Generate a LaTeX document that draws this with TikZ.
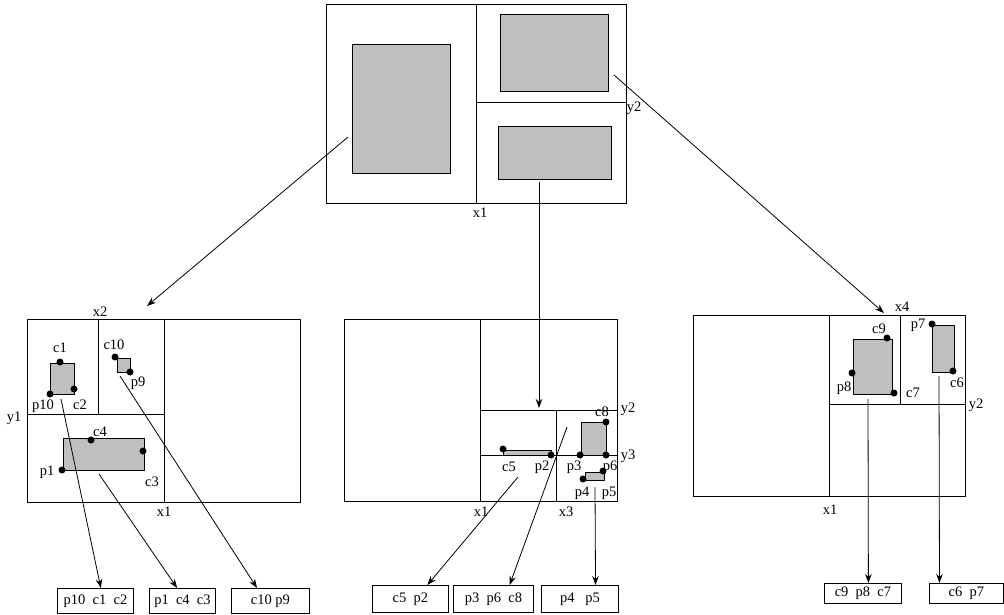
\documentclass[tikz,border=0pt]{standalone}
\usepackage{fontspec}
\setmainfont{Liberation Serif}
\usetikzlibrary{positioning}
\usetikzlibrary{calc,arrows.meta}
\tikzset{
  region/.style = {draw=black, line width=0.9pt},% boite de la region
  coupe/.style = {draw=black, line width=0.8pt},% ligne de coupe
  objet/.style = {draw=black, fill=black!25, line width=0.9pt},% rectangle grise
  sommet/.style = {circle, fill=black, inner sep=0pt,
    minimum size=7pt},% point noir
  etiq/.style = {inner sep=0pt, font=\fontsize{14.5}{16}\selectfont},% etiquette
  feuille/.style = {draw=black, line width=0.9pt, inner sep=0pt,
    anchor=north west, font=\fontsize{14.5}{16}\selectfont},% feuille
  fleche/.style = {->, line width=0.8pt}% pointeur
}

\begin{document}
\begin{tikzpicture}[x=1pt,y=-1pt,>={Stealth[length=9pt,width=6.5pt]}]
\useasboundingbox (0,0) rectangle (1004,614);

% racine
\draw[region] (326,4) rectangle (626,203);
\draw[coupe] (476,4) -- (476,203) (476,102) -- (626,102);
\filldraw[objet] (352,44) rectangle (450,173);
\filldraw[objet] (500,14) rectangle (608,91);
\filldraw[objet] (498,126) rectangle (611,179);
\node[etiq] (rx1) at (480,213) {x1};
\node[etiq] (ry2) at (634,108) {y2};
\coordinate (r1) at (348,137);
\coordinate (r2) at (539,182);
\coordinate (r3) at (614,75);

% fils gauche
\draw[region] (27,319) rectangle (300,502);
\draw[coupe] (164,319) -- (164,502) (27,414) -- (164,414) (98,319) -- (98,414);
\filldraw[objet] (50,363) rectangle (74,394);
\filldraw[objet] (117,358) rectangle (130,372);
\filldraw[objet] (63,438) rectangle (144,470);
\node[sommet] (c1) at (60,362) {};
\node[sommet] (c2) at (74,389) {};
\node[sommet] (p10) at (50,394) {};
\node[sommet] (c10) at (115,357) {};
\node[sommet] (p9) at (130,372) {};
\node[sommet] (c4) at (91,440) {};
\node[sommet] (c3) at (143,451) {};
\node[sommet] (p1) at (62,470) {};
\node[etiq] (lx2) at (100,312) {x2};
\node[etiq] (ly1) at (14,418) {y1};
\node[etiq] (lx1) at (164,512) {x1};
\node[etiq] (lc1) at (60,348) {c1};
\node[etiq] (lp10) at (43,406) {p10};
\node[etiq] (lc2) at (80,405) {c2};
\node[etiq] (lc10) at (114,345) {c10};
\node[etiq] (lp9) at (138,383) {p9};
\node[etiq] (lc4) at (100,432) {c4};
\node[etiq] (lp1) at (47,472) {p1};
\node[etiq] (lc3) at (152,482) {c3};
\coordinate (g1) at (61,399);
\coordinate (g2) at (99,474);
\coordinate (g3) at (120,376);
\coordinate (tg) at (147,306);

% fils milieu
\draw[region] (344,319) rectangle (617,501);
\draw[coupe] (480,319) -- (480,501) (480,410) -- (617,410)
  (556,410) -- (556,501) (480,455) -- (617,455);
\filldraw[objet] (503,450) rectangle (551,455);
\filldraw[objet] (581,422) rectangle (606,455);
\filldraw[objet] (585,472) rectangle (604,480);
\node[sommet] (c5) at (503,449) {};
\node[sommet] (p2) at (551,455) {};
\node[sommet] (c8) at (606,422) {};
\node[sommet] (p3) at (580,455) {};
\node[sommet] (p6) at (606,455) {};
\node[sommet] (p4) at (583,479) {};
\node[sommet] (p5) at (603,471) {};
\node[etiq] (my2) at (628,409) {y2};
\node[etiq] (my3) at (628,456) {y3};
\node[etiq] (mx1) at (481,512) {x1};
\node[etiq] (mx3) at (566,512) {x3};
\node[etiq] (mc5) at (509,467) {c5};
\node[etiq] (mp2) at (542,467) {p2};
\node[etiq] (mp3) at (574,467) {p3};
\node[etiq] (mp6) at (610,467) {p6};
\node[etiq] (mc8) at (602,412) {c8};
\node[etiq] (mp4) at (582,493) {p4};
\node[etiq] (mp5) at (609,493) {p5};
\coordinate (m1) at (518,477);
\coordinate (m2) at (567,427);
\coordinate (m3) at (595,487);
\coordinate (tm) at (539,408);

% fils droit
\draw[region] (693,315) rectangle (965,496);
\draw[coupe] (829,315) -- (829,496) (829,404) -- (965,404) (900,315) -- (900,405);
\filldraw[objet] (853,339) rectangle (892,394);
\filldraw[objet] (932,325) rectangle (954,372);
\node[sommet] (c9) at (887,338) {};
\node[sommet] (p8) at (852,373) {};
\node[sommet] (c7) at (894,393) {};
\node[sommet] (p7) at (932,324) {};
\node[sommet] (c6) at (953,371) {};
\node[etiq] (dx4) at (902,307) {x4};
\node[etiq] (dy2) at (976,405) {y2};
\node[etiq] (dx1) at (830,510) {x1};
\node[etiq] (dc9) at (879,329) {c9};
\node[etiq] (dp8) at (844,388) {p8};
\node[etiq] (dc7) at (913,393) {c7};
\node[etiq] (dp7) at (918,325) {p7};
\node[etiq] (dc6) at (957,383) {c6};
\coordinate (d1) at (868,399);
\coordinate (d2) at (939,376);
\coordinate (td) at (884,313);

% feuilles
\node[feuille, minimum width=76pt, minimum height=25pt] (f1) at (57,588) {p10~~c1~~c2};
\node[feuille, minimum width=66pt, minimum height=25pt] (f2) at (149,588) {p1~~c4~~c3};
\node[feuille, minimum width=78pt, minimum height=25pt] (f3) at (231,588) {c10~p9};
\node[feuille, minimum width=76pt, minimum height=27pt] (f4) at (372,585) {c5~~p2};
\node[feuille, minimum width=80pt, minimum height=27pt] (f5) at (453,585) {p3~~p6~~c8};
\node[feuille, minimum width=77pt, minimum height=27pt] (f6) at (541,585) {p4~~~p5};
\node[feuille, minimum width=77pt, minimum height=20pt] (f7) at (824,583) {c9~~p8~~c7};
\node[feuille, minimum width=74pt, minimum height=20pt] (f8) at (929,583) {c6~~p7};

% pointeurs
\draw[fleche] (r1) -- (tg);
\draw[fleche] (r2) -- (tm);
\draw[fleche] (r3) -- (td);
\draw[fleche] (g1) -- ($(f1.north west)!0.57!(f1.north east)$);
\draw[fleche] (g2) -- ($(f2.north west)!0.42!(f2.north east)$);
\draw[fleche] (g3) -- ($(f3.north west)!0.33!(f3.north east)$);
\draw[fleche] (m1) -- ($(f4.north west)!0.72!(f4.north east)$);
\draw[fleche] (m2) -- ($(f5.north west)!0.7!(f5.north east)$);
\draw[fleche] (m3) -- ($(f6.north west)!0.70!(f6.north east)$);
\draw[fleche] (d1) -- ($(f7.north west)!0.57!(f7.north east)$);
\draw[fleche] (d2) -- ($(f8.north west)!0.14!(f8.north east)$);
\end{tikzpicture}
\end{document}
